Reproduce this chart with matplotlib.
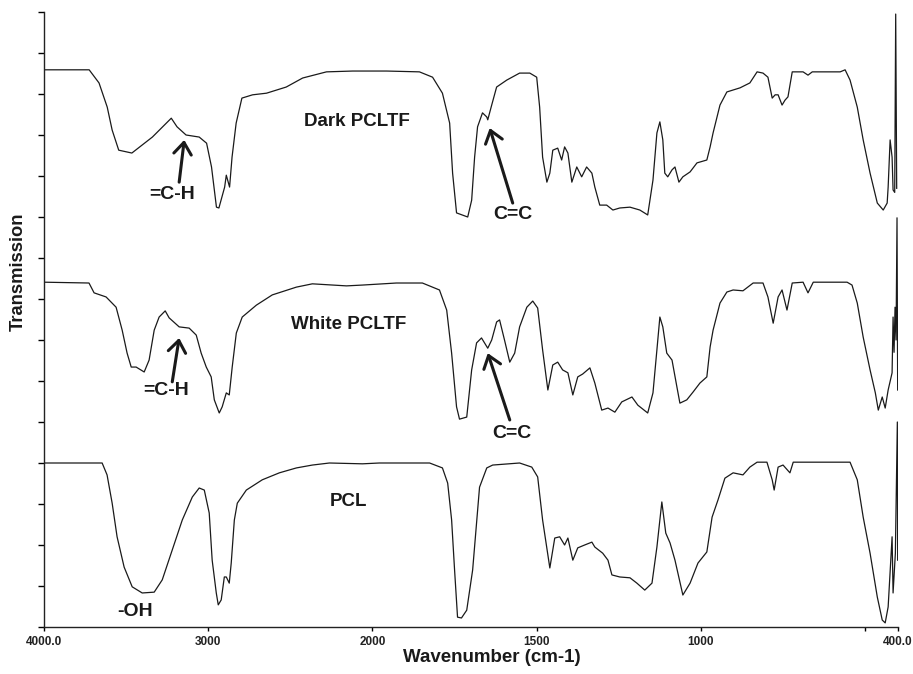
import numpy as np
import matplotlib
matplotlib.use("Agg")
import matplotlib.pyplot as plt

plt.rcParams['font.family'] = ['Liberation Sans', 'DejaVu Sans']

# ---- data (wavenumber cm-1, stacked transmission in axis units) ----
dark_wn = [4000, 3725, 3665, 3615, 3585, 3545, 3465, 3340, 3225, 3190, 3135, 3055, 3010, 2980,
           2950, 2935, 2900, 2890, 2870, 2855, 2830, 2795, 2730, 2645, 2525, 2425, 2280, 2120,
           1957, 1857, 1817, 1787, 1765, 1756, 1744, 1710, 1698, 1689, 1680, 1665, 1652, 1649,
           1637, 1622, 1591, 1552, 1521, 1500, 1491, 1482, 1469, 1460, 1451, 1436, 1424, 1415,
           1405, 1393, 1378, 1363, 1348, 1332, 1323, 1308, 1287, 1268, 1247, 1216, 1186, 1162,
           1146, 1134, 1125, 1116, 1110, 1101, 1088, 1079, 1067, 1055, 1033, 1012, 982, 972,
           963, 942, 921, 881, 851, 829, 811, 796, 783, 774, 765, 753, 744, 735, 722, 689, 674,
           661, 576, 561, 546, 524, 506, 485, 463, 445, 433, 430, 424, 418, 415, 410, 407, 404]
dark_t = [13.59, 13.59, 13.27, 12.68, 12.12, 11.63, 11.56, 11.95, 12.41, 12.20, 12.00, 11.95, 11.80, 11.22,
          10.24, 10.22, 10.73, 11.02, 10.73, 11.46, 12.29, 12.90, 12.98, 13.02, 13.17, 13.39, 13.54, 13.56,
          13.56, 13.54, 13.41, 13.02, 12.29, 11.07, 10.10, 10.00, 10.41, 11.46, 12.20, 12.54, 12.44, 12.37,
          12.73, 13.17, 13.34, 13.51, 13.51, 13.41, 12.68, 11.46, 10.85, 11.07, 11.63, 11.68, 11.39, 11.71,
          11.56, 10.85, 11.22, 10.98, 11.22, 11.07, 10.73, 10.29, 10.29, 10.17, 10.22, 10.24, 10.17, 10.05,
          10.90, 12.05, 12.32, 11.88, 11.07, 10.98, 11.15, 11.22, 10.85, 10.98, 11.10, 11.32, 11.39, 11.71,
          12.05, 12.73, 13.05, 13.15, 13.27, 13.54, 13.51, 13.41, 12.90, 12.98, 12.98, 12.73, 12.85, 12.93,
          13.54, 13.54, 13.46, 13.54, 13.54, 13.59, 13.34, 12.68, 11.88, 11.07, 10.34, 10.17, 10.34, 10.73,
          11.88, 11.46, 10.66, 10.60, 14.95, 10.70]

white_wn = [4000, 3726, 3695, 3622, 3561, 3524, 3494, 3469, 3439, 3390, 3360, 3329, 3299, 3262, 3238,
            3177, 3116, 3073, 3043, 3012, 2982, 2963, 2933, 2915, 2890, 2872, 2854, 2829, 2793, 2707,
            2610, 2463, 2366, 2158, 2061, 1927, 1848, 1796, 1774, 1759, 1744, 1735, 1713, 1698, 1683,
            1668, 1649, 1637, 1622, 1613, 1598, 1582, 1567, 1552, 1530, 1512, 1497, 1482, 1466, 1451,
            1436, 1421, 1405, 1390, 1375, 1360, 1338, 1323, 1302, 1283, 1262, 1241, 1210, 1192, 1162,
            1146, 1134, 1125, 1116, 1104, 1088, 1073, 1064, 1043, 1024, 1003, 982, 972, 963, 942, 921,
            902, 872, 841, 811, 796, 780, 765, 753, 738, 722, 689, 674, 658, 555, 540, 524, 506, 485,
            469, 460, 448, 439, 430, 418, 415, 412, 409, 406, 403, 401]
white_t = [8.41, 8.39, 8.15, 8.05, 7.80, 7.24, 6.68, 6.34, 6.34, 6.22, 6.51, 7.24, 7.56, 7.71, 7.54,
           7.32, 7.29, 7.12, 6.68, 6.34, 6.10, 5.54, 5.22, 5.37, 5.71, 5.66, 6.34, 7.17, 7.56, 7.85,
           8.10, 8.29, 8.37, 8.32, 8.34, 8.39, 8.39, 8.22, 7.73, 6.68, 5.37, 5.07, 5.12, 6.27, 6.93,
           7.05, 6.80, 7.00, 7.44, 7.49, 7.00, 6.46, 6.68, 7.32, 7.80, 7.95, 7.78, 6.76, 5.78, 6.39,
           6.46, 6.27, 6.20, 5.66, 6.10, 6.17, 6.32, 5.95, 5.29, 5.34, 5.24, 5.49, 5.61, 5.41, 5.22,
           5.71, 6.76, 7.56, 7.32, 6.68, 6.51, 5.85, 5.46, 5.54, 5.73, 5.95, 6.10, 6.83, 7.24, 7.90, 8.17,
           8.22, 8.20, 8.39, 8.39, 8.05, 7.41, 8.05, 8.22, 7.73, 8.39, 8.41, 8.15, 8.41, 8.41, 8.34, 7.90,
           7.07, 6.27, 5.71, 5.29, 5.61, 5.34, 5.78, 6.20, 7.56, 6.70, 7.80, 7.00, 9.98, 5.78]

pcl_wn = [4000, 3646, 3616, 3585, 3555, 3512, 3463, 3402, 3329, 3280, 3219, 3158, 3097, 3055, 3024,
          2994, 2976, 2951, 2939, 2921, 2902, 2890, 2872, 2860, 2841, 2823, 2768, 2671, 2567, 2463,
          2366, 2262, 2061, 1979, 1826, 1787, 1771, 1759, 1750, 1741, 1729, 1713, 1695, 1674, 1652,
          1634, 1552, 1515, 1497, 1482, 1460, 1445, 1430, 1415, 1405, 1390, 1375, 1354, 1332, 1323,
          1299, 1283, 1271, 1247, 1216, 1195, 1171, 1149, 1134, 1119, 1107, 1094, 1079, 1055, 1033,
          1009, 982, 966, 948, 927, 902, 872, 851, 829, 799, 783, 777, 765, 750, 729, 719, 546, 524,
          506, 485, 463, 448, 439, 430, 418, 415, 408, 402, 401]
pcl_t = [4.00, 4.00, 3.71, 3.02, 2.20, 1.46, 0.98, 0.83, 0.85, 1.15, 1.88, 2.61, 3.17, 3.39, 3.34,
         2.78, 1.63, 0.83, 0.54, 0.66, 1.22, 1.22, 1.07, 1.56, 2.61, 3.02, 3.34, 3.59, 3.76, 3.88,
         3.95, 4.00, 3.98, 4.00, 4.00, 3.88, 3.51, 2.61, 1.39, 0.24, 0.22, 0.41, 1.39, 3.41, 3.88,
         3.95, 4.00, 3.90, 3.66, 2.61, 1.44, 2.17, 2.20, 2.00, 2.17, 1.63, 1.93, 2.00, 2.07, 1.95,
         1.80, 1.63, 1.27, 1.22, 1.20, 1.07, 0.90, 1.07, 1.95, 3.05, 2.29, 2.05, 1.63, 0.78, 1.07,
         1.56, 1.83, 2.68, 3.10, 3.63, 3.76, 3.71, 3.90, 4.02, 4.02, 3.59, 3.34, 3.90, 3.95, 3.76, 4.02, 4.02, 3.59,
         2.68, 1.80, 0.73, 0.17, 0.10, 0.49, 2.20, 0.83, 1.80, 5.00, 1.63]

x_ticks = [4000, 3000, 2000, 1500, 1000, 500, 400]
x_tick_labels = ['4000.0', '3000', '2000', '1500', '1000', '', '400.0']

series_labels = ['Dark PCLTF', 'White PCLTF', 'PCL']
series_label_pos = [(2097, 12.34), (2146, 7.37), (2146, 3.07)]

band_labels = ['=C-H', 'C=C', '=C-H', 'C=C', '-OH']
band_label_pos = [(3219, 10.56), (1573, 10.05), (3256, 5.76), (1576, 4.71), (3445, 0.39)]
# arrows: (tail, tip)
arrows = [((3177, 10.85), (3146, 11.88)),
          ((1573, 10.34), (1643, 12.17)),
          ((3219, 5.98), (3177, 7.05)),
          ((1582, 5.05), (1649, 6.68))]


def fwd(w):
    w = np.asarray(w, dtype=float)
    return np.where(w >= 2000, w, 2 * w - 2000)


def inv(u):
    u = np.asarray(u, dtype=float)
    return np.where(u >= 2000, u, (u + 2000) / 2)


fig = plt.figure(figsize=(9.13, 6.74), dpi=100)
ax = fig.add_axes([44 / 913, 47 / 674, 854 / 913, 615 / 674])
ax.set_xscale('function', functions=(fwd, inv))

lc = '#1a1a1a'
for wn, t in [(dark_wn, dark_t), (white_wn, white_t), (pcl_wn, pcl_t)]:
    ax.plot(wn, t, color=lc, lw=0.9)

ax.set_xlim(4000, 400)
ax.set_ylim(0, 15)

ax.set_xticks(x_ticks)
ax.set_xticklabels(x_tick_labels, fontsize=8.5, fontweight='bold', color='#222222')
ax.xaxis.set_minor_locator(matplotlib.ticker.NullLocator())
ax.set_yticks(np.arange(0, 16, 1))
ax.set_yticklabels([])
ax.tick_params(axis='x', direction='out', length=3, width=1, pad=3.5)
ax.tick_params(axis='y', direction='out', length=4, width=1)
for s in ['top', 'right']:
    ax.spines[s].set_visible(False)
for s in ['left', 'bottom']:
    ax.spines[s].set_linewidth(1.0)
    ax.spines[s].set_color('#222222')

for lab, (x, y) in zip(series_labels, series_label_pos):
    ax.text(x, y, lab, ha='center', va='center', fontsize=13.5, fontweight='bold', color='#1a1a1a')
for lab, (x, y) in zip(band_labels, band_label_pos):
    ax.text(x, y, lab, ha='center', va='center', fontsize=14, fontweight='bold', color='#1a1a1a')
for tail, tip in arrows:
    ax.annotate('', xy=tip, xytext=tail,
                arrowprops=dict(arrowstyle='->,head_length=0.6,head_width=0.45', lw=2.2,
                                color='#1a1a1a', shrinkA=0, shrinkB=0, mutation_scale=14))

fig.text(492 / 913, 1 - 657 / 674, 'Wavenumber (cm-1)', ha='center', va='center',
         fontsize=13.5, fontweight='bold', color='#1a1a1a')
fig.text(18 / 913, 1 - 272 / 674, 'Transmission', ha='center', va='center', rotation=90,
         fontsize=13.2, fontweight='bold', color='#1a1a1a')

fig.savefig('out.png', dpi=100)
